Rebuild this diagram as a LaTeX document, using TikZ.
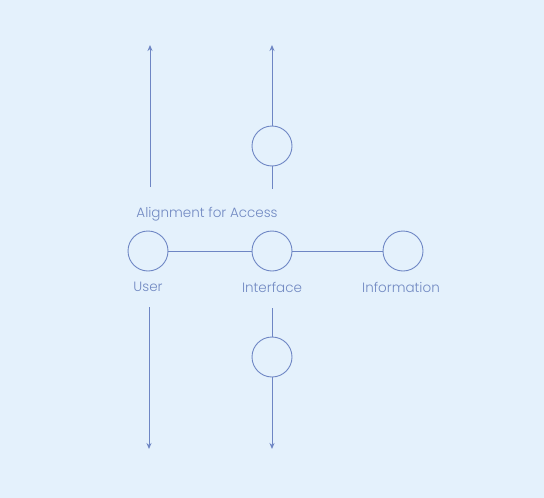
\documentclass[tikz,border=0pt]{standalone}
\usepackage{fontspec}
\setmainfont{Poppins Light}
\usetikzlibrary{arrows.meta}
\begin{document}
\begin{tikzpicture}[x=1pt,y=-1pt,
  ln/.style={draw=lineblue, line width=1pt},
  arr/.style={ln, -{Stealth[length=6pt,width=5pt]}},
  circ/.style={circle, draw=lineblue, line width=0.9pt, minimum size=40pt, inner sep=0pt},
  lbl/.style={text=textblue, font=\fontsize{13.5}{16}\selectfont, inner sep=0pt}]
\definecolor{bg}{HTML}{E4F1FC}
\definecolor{lineblue}{HTML}{6E86C4}
\definecolor{textblue}{HTML}{7189C2}
\fill[bg] (0,0) rectangle (544,498);
\useasboundingbox (0,0) rectangle (544,498);
% middle row
\node[circ] (user) at (148,251) {};
\node[circ] (iface) at (272,251) {};
\node[circ] (info) at (403,251) {};
\draw[ln] (user) -- (iface);
\draw[ln] (iface) -- (info);
\node[lbl] (title) at (207,214) {Alignment for Access};
\node[lbl] (luser) at (148,287) {User};
\node[lbl] (liface) at (272,287) {Interface};
\node[lbl] (linfo) at (401,287) {Information};
% top
\coordinate (ltopS) at (150,187);
\coordinate (ltopE) at (150,45);
\draw[arr] (ltopS) -- (ltopE);
\node[circ] (tc) at (272,146) {};
\coordinate (rtopS) at (272,189);
\coordinate (rtopE) at (272,45);
\draw[ln] (rtopS) -- (tc);
\draw[arr] (tc) -- (rtopE);
% bottom
\coordinate (lbotS) at (149,307);
\coordinate (lbotE) at (149,449);
\draw[arr] (lbotS) -- (lbotE);
\node[circ] (bc) at (272,357) {};
\coordinate (rbotS) at (272,308);
\coordinate (rbotE) at (272,449);
\draw[ln] (rbotS) -- (bc);
\draw[arr] (bc) -- (rbotE);
\end{tikzpicture}
\end{document}
